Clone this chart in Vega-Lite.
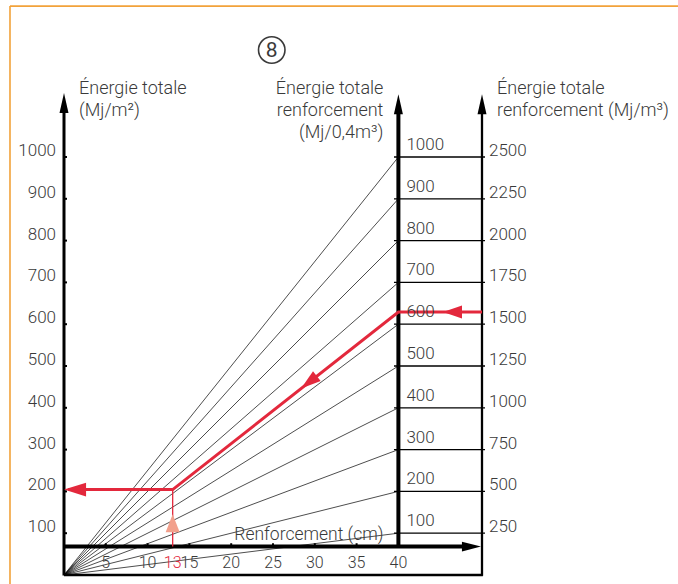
{
  "$schema": "https://vega.github.io/schema/vega-lite/v6.json",
  "width": 418,
  "height": 418,
  "autosize": {"type": "none"},
  "padding": {"left": 64, "top": 157, "right": 196, "bottom": 9},
  "background": "white",
  "config": {"view": {"stroke": null}},
  "datasets": {
    "levels": [
      {"v": 100, "r": 250}, {"v": 200, "r": 500}, {"v": 300, "r": 750}, {"v": 400, "r": 1000},
      {"v": 500, "r": 1250}, {"v": 600, "r": 1500}, {"v": 700, "r": 1750}, {"v": 800, "r": 2000},
      {"v": 900, "r": 2250}, {"v": 1000, "r": 2500}
    ],
    "cm": [
      {"cm": 5}, {"cm": 10}, {"cm": 13}, {"cm": 15}, {"cm": 20}, {"cm": 25}, {"cm": 30}, {"cm": 35}, {"cm": 40}
    ]
  },
  "layer": [
    {
      "data": {"values": [
        {"x": -6.46, "y": -30, "x2": -6.46, "y2": 1361},
        {"x": -6.46, "y": 1361, "x2": 80, "y2": 1361}
      ]},
      "mark": {"type": "rule", "color": "#f2a23a", "strokeWidth": 1.6},
      "encoding": {
        "x": {"field": "x", "type": "quantitative", "scale": {"domain": [0, 50], "nice": false, "zero": false}, "axis": null},
        "y": {"field": "y", "type": "quantitative", "scale": {"domain": [0, 1000], "nice": false, "zero": false}, "axis": null},
        "x2": {"field": "x2"},
        "y2": {"field": "y2"}
      }
    },
    {
      "data": {"name": "levels"},
      "mark": {"type": "rule", "color": "black", "strokeWidth": 0.7},
      "encoding": {
        "x": {"datum": 40, "type": "quantitative"},
        "y": {"field": "v", "type": "quantitative"},
        "x2": {"datum": 0},
        "y2": {"datum": 0}
      }
    },
    {
      "data": {"name": "levels"},
      "mark": {"type": "rule", "color": "black", "strokeWidth": 1.3},
      "encoding": {
        "x": {"datum": 39.47, "type": "quantitative"},
        "x2": {"datum": 50.36},
        "y": {"field": "v", "type": "quantitative"}
      }
    },
    {
      "data": {"name": "levels"},
      "mark": {"type": "rule", "color": "black", "strokeWidth": 2},
      "encoding": {
        "x": {"datum": -0.1, "type": "quantitative"},
        "x2": {"datum": 0.36},
        "y": {"field": "v", "type": "quantitative"}
      }
    },
    {
      "data": {"values": [
        {"x": 40, "y": 68, "x2": 40, "y2": 1115},
        {"x": 0, "y": 68, "x2": 48.5, "y2": 68}
      ]},
      "mark": {"type": "rule", "color": "black", "strokeWidth": 4},
      "encoding": {
        "x": {"field": "x", "type": "quantitative"},
        "y": {"field": "y", "type": "quantitative"},
        "x2": {"field": "x2"},
        "y2": {"field": "y2"}
      }
    },
    {
      "data": {"values": [{"x": 0, "y": -1, "x2": 0, "y2": 1115}]},
      "mark": {"type": "rule", "color": "black", "strokeWidth": 3},
      "encoding": {
        "x": {"field": "x", "type": "quantitative"},
        "y": {"field": "y", "type": "quantitative"},
        "x2": {"field": "x2"},
        "y2": {"field": "y2"}
      }
    },
    {
      "data": {"values": [
        {"x": 50, "y": -2, "x2": 50, "y2": 1115},
        {"x": 0, "y": 0, "x2": 50.1, "y2": 0}
      ]},
      "mark": {"type": "rule", "color": "black", "strokeWidth": 2.3},
      "encoding": {
        "x": {"field": "x", "type": "quantitative"},
        "y": {"field": "y", "type": "quantitative"},
        "x2": {"field": "x2"},
        "y2": {"field": "y2"}
      }
    },
    {
      "data": {"name": "cm"},
      "transform": [{"filter": "datum.cm != 13"}],
      "mark": {"type": "rule", "color": "black", "strokeWidth": 2},
      "encoding": {
        "x": {"field": "cm", "type": "quantitative"},
        "y": {"datum": 66, "type": "quantitative"},
        "y2": {"datum": 76}
      }
    },
    {
      "data": {"values": [{"x": 0, "y": 1129}, {"x": 40, "y": 1126}, {"x": 50, "y": 1126}]},
      "mark": {"type": "point", "shape": "M0,-1L0.45,1L-0.45,1Z", "filled": true, "fill": "black", "opacity": 1, "size": 400, "strokeWidth": 0},
      "encoding": {
        "x": {"field": "x", "type": "quantitative"},
        "y": {"field": "y", "type": "quantitative"}
      }
    },
    {
      "data": {"values": [{"x": 48.74, "y": 68}]},
      "mark": {"type": "point", "shape": "M1,0L-1,-0.52L-1,0.52Z", "filled": true, "fill": "black", "opacity": 1, "size": 361, "strokeWidth": 0},
      "encoding": {
        "x": {"field": "x", "type": "quantitative"},
        "y": {"field": "y", "type": "quantitative"}
      }
    },
    {
      "data": {"values": [
        {"x": 50, "y": 629, "o": 1},
        {"x": 40, "y": 629, "o": 2},
        {"x": 13, "y": 204.4, "o": 3},
        {"x": 0.5, "y": 204.4, "o": 4}
      ]},
      "mark": {"type": "line", "color": "#e3283c", "strokeWidth": 3},
      "encoding": {
        "x": {"field": "x", "type": "quantitative"},
        "y": {"field": "y", "type": "quantitative"},
        "order": {"field": "o", "type": "quantitative"}
      }
    },
    {
      "data": {"values": [{"x": 13, "y": 68, "y2": 204.4}]},
      "mark": {"type": "rule", "color": "#e3283c", "strokeWidth": 1.3},
      "encoding": {
        "x": {"field": "x", "type": "quantitative"},
        "y": {"field": "y", "type": "quantitative"},
        "y2": {"field": "y2"}
      }
    },
    {
      "data": {"values": [{"x": 46.47, "y": 629}]},
      "mark": {"type": "point", "shape": "M-1,0L1,-0.68L1,0.68Z", "filled": true, "fill": "#e3283c", "opacity": 1, "size": 361, "strokeWidth": 0},
      "encoding": {
        "x": {"field": "x", "type": "quantitative"},
        "y": {"field": "y", "type": "quantitative"}
      }
    },
    {
      "data": {"values": [{"x": 1.32, "y": 204.4}]},
      "mark": {"type": "point", "shape": "M-1,0L1,-0.62L1,0.62Z", "filled": true, "fill": "#e3283c", "opacity": 1, "size": 484, "strokeWidth": 0},
      "encoding": {
        "x": {"field": "x", "type": "quantitative"},
        "y": {"field": "y", "type": "quantitative"}
      }
    },
    {
      "data": {"values": [{"x": 29.3, "y": 461}]},
      "mark": {"type": "point", "shape": "M0,-1L0.62,1L-0.62,1Z", "filled": true, "fill": "#e3283c", "opacity": 1, "size": 400, "strokeWidth": 0, "angle": 232},
      "encoding": {
        "x": {"field": "x", "type": "quantitative"},
        "y": {"field": "y", "type": "quantitative"}
      }
    },
    {
      "data": {"values": [{"x": 13, "y": 124}]},
      "mark": {"type": "point", "shape": "M0,-1L0.78,1L-0.78,1Z", "filled": true, "fill": "#f2a08c", "opacity": 1, "size": 324, "strokeWidth": 0},
      "encoding": {
        "x": {"field": "x", "type": "quantitative"},
        "y": {"field": "y", "type": "quantitative"}
      }
    },
    {
      "data": {"name": "levels"},
      "mark": {"type": "text", "font": "Roboto", "fontWeight": 300, "fontSize": 17, "fill": "#3a3a3a", "align": "right", "baseline": "alphabetic", "dx": -8, "dy": -1},
      "encoding": {
        "x": {"datum": 0, "type": "quantitative"},
        "y": {"field": "v", "type": "quantitative"},
        "text": {"field": "v", "type": "quantitative", "format": "d"}
      }
    },
    {
      "data": {"name": "levels"},
      "mark": {"type": "text", "font": "Roboto", "fontWeight": 300, "fontSize": 17, "fill": "#3a3a3a", "align": "left", "baseline": "alphabetic", "dx": 8, "dy": -7},
      "encoding": {
        "x": {"datum": 40, "type": "quantitative"},
        "y": {"field": "v", "type": "quantitative"},
        "text": {"field": "v", "type": "quantitative", "format": "d"}
      }
    },
    {
      "data": {"name": "levels"},
      "mark": {"type": "text", "font": "Roboto", "fontWeight": 300, "fontSize": 17, "fill": "#3a3a3a", "align": "left", "baseline": "alphabetic", "dx": 7, "dy": -1},
      "encoding": {
        "x": {"datum": 50, "type": "quantitative"},
        "y": {"field": "v", "type": "quantitative"},
        "text": {"field": "r", "type": "quantitative", "format": "d"}
      }
    },
    {
      "data": {"name": "cm"},
      "mark": {"type": "text", "font": "Roboto", "fontWeight": 300, "fontSize": 16, "align": "center", "baseline": "alphabetic", "dy": 21.5},
      "encoding": {
        "x": {"field": "cm", "type": "quantitative"},
        "y": {"datum": 68, "type": "quantitative"},
        "text": {"field": "cm", "type": "quantitative", "format": "d"},
        "color": {"condition": {"test": "datum.cm == 13", "value": "#e3283c"}, "value": "#3a3a3a"}
      }
    },
    {
      "data": {"values": [{"x": 40, "y": 68, "t": "Renforcement (cm)"}]},
      "mark": {"type": "text", "font": "Roboto", "fontWeight": 300, "fontSize": 17.5, "fill": "#3a3a3a", "align": "right", "baseline": "alphabetic", "dx": -15, "dy": -7},
      "encoding": {
        "x": {"field": "x", "type": "quantitative"},
        "y": {"field": "y", "type": "quantitative"},
        "text": {"field": "t"}
      }
    },
    {
      "data": {"values": [{"x": 0, "y": 1150.7, "t": "Énergie totale\n(Mj/m²)"}]},
      "mark": {"type": "text", "font": "Roboto", "fontWeight": 300, "fontSize": 18, "fill": "#3a3a3a", "align": "left", "baseline": "alphabetic", "dx": 15, "lineBreak": "\n", "lineHeight": 22},
      "encoding": {
        "x": {"field": "x", "type": "quantitative"},
        "y": {"field": "y", "type": "quantitative"},
        "text": {"field": "t"}
      }
    },
    {
      "data": {"values": [{"x": 40, "y": 1150.7, "t": "Énergie totale\nrenforcement\n(Mj/0,4m³)"}]},
      "mark": {"type": "text", "font": "Roboto", "fontWeight": 300, "fontSize": 18, "fill": "#3a3a3a", "align": "right", "baseline": "alphabetic", "dx": -15, "lineBreak": "\n", "lineHeight": 22},
      "encoding": {
        "x": {"field": "x", "type": "quantitative"},
        "y": {"field": "y", "type": "quantitative"},
        "text": {"field": "t"}
      }
    },
    {
      "data": {"values": [{"x": 50, "y": 1150.7, "t": "Énergie totale\nrenforcement (Mj/m³)"}]},
      "mark": {"type": "text", "font": "Roboto", "fontWeight": 300, "fontSize": 18, "fill": "#3a3a3a", "align": "left", "baseline": "alphabetic", "dx": 15, "lineBreak": "\n", "lineHeight": 22},
      "encoding": {
        "x": {"field": "x", "type": "quantitative"},
        "y": {"field": "y", "type": "quantitative"},
        "text": {"field": "t"}
      }
    },
    {
      "data": {"values": [{"x": 24.85, "y": 1256}]},
      "mark": {"type": "point", "shape": "circle", "filled": false, "stroke": "#3a3a3a", "strokeWidth": 1.6, "opacity": 1, "size": 700},
      "encoding": {
        "x": {"field": "x", "type": "quantitative"},
        "y": {"field": "y", "type": "quantitative"}
      }
    },
    {
      "data": {"values": [{"x": 24.85, "y": 1256, "t": "8"}]},
      "mark": {"type": "text", "font": "Roboto", "fontSize": 21, "fill": "#3a3a3a", "align": "center", "baseline": "middle", "dy": 1},
      "encoding": {
        "x": {"field": "x", "type": "quantitative"},
        "y": {"field": "y", "type": "quantitative"},
        "text": {"field": "t"}
      }
    }
  ]
}
